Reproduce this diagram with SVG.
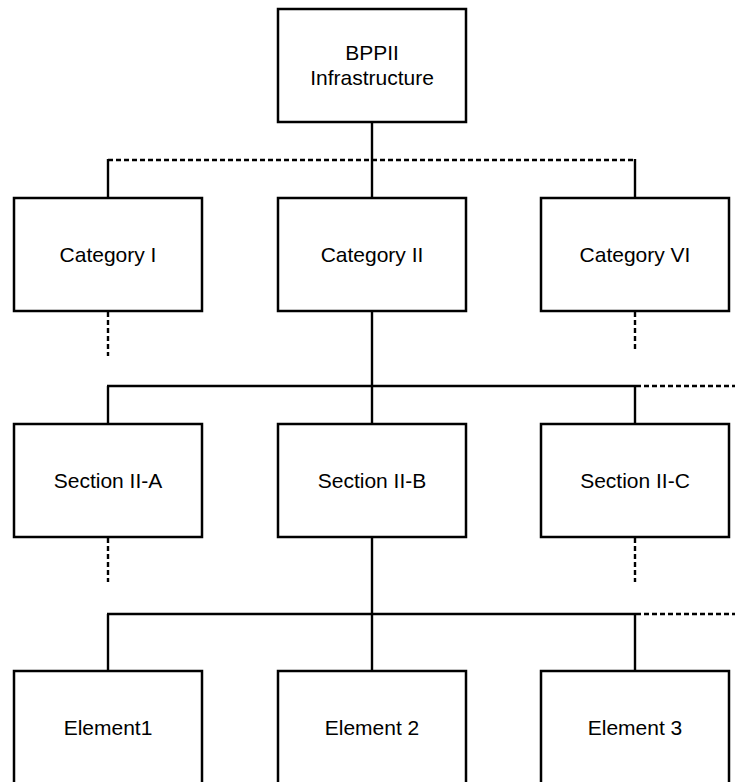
<svg xmlns="http://www.w3.org/2000/svg" width="735" height="782" viewBox="0 0 735 782">
  <style>
    .box { fill: #ffffff; stroke: #000000; stroke-width: 2.5; }
    .lbl { font-family: "Liberation Sans", Arial, sans-serif; font-size: 21px; fill: #000000; text-anchor: middle; }
    .solid { stroke: #000000; stroke-width: 2.4; fill: none; }
    .dash { stroke: #000000; stroke-width: 2.4; fill: none; stroke-dasharray: 5 3; }
  </style>
  <rect width="735" height="782" fill="#ffffff"/>

  <!-- connectors -->
  <g id="connectors">
    <!-- root to categories -->
    <line class="solid" x1="372" y1="122" x2="372" y2="198"/>
    <line class="dash" x1="108" y1="160" x2="635" y2="160"/>
    <line class="solid" x1="108" y1="159" x2="108" y2="198"/>
    <line class="solid" x1="635" y1="159" x2="635" y2="198"/>
    <line class="dash" x1="108" y1="312" x2="108" y2="356"/>
    <line class="dash" x1="635" y1="312" x2="635" y2="352"/>
    <!-- Category II to sections -->
    <line class="solid" x1="372" y1="311" x2="372" y2="424"/>
    <line class="solid" x1="107" y1="386" x2="636" y2="386"/>
    <line class="dash" x1="636" y1="386" x2="735" y2="386"/>
    <line class="solid" x1="108" y1="386" x2="108" y2="424"/>
    <line class="solid" x1="635" y1="386" x2="635" y2="424"/>
    <line class="dash" x1="108" y1="538" x2="108" y2="582"/>
    <line class="dash" x1="635" y1="538" x2="635" y2="582"/>
    <!-- Section II-B to elements -->
    <line class="solid" x1="372" y1="537" x2="372" y2="671"/>
    <line class="solid" x1="107" y1="614" x2="636" y2="614"/>
    <line class="dash" x1="636" y1="614" x2="735" y2="614"/>
    <line class="solid" x1="108" y1="614" x2="108" y2="671"/>
    <line class="solid" x1="635" y1="614" x2="635" y2="671"/>
  </g>

  <g id="root">
    <rect class="box" x="278" y="9" width="188" height="113"/>
    <text class="lbl" x="372" y="60">BPPII</text>
    <text class="lbl" x="372" y="85">Infrastructure</text>
  </g>

  <g id="category-1">
    <rect class="box" x="14" y="198" width="188" height="113"/>
    <text class="lbl" x="108" y="262">Category I</text>
  </g>
  <g id="category-2">
    <rect class="box" x="278" y="198" width="188" height="113"/>
    <text class="lbl" x="372" y="262">Category II</text>
  </g>
  <g id="category-6">
    <rect class="box" x="541" y="198" width="188" height="113"/>
    <text class="lbl" x="635" y="262">Category VI</text>
  </g>

  <g id="section-a">
    <rect class="box" x="14" y="424" width="188" height="113"/>
    <text class="lbl" x="108" y="488">Section II-A</text>
  </g>
  <g id="section-b">
    <rect class="box" x="278" y="424" width="188" height="113"/>
    <text class="lbl" x="372" y="488">Section II-B</text>
  </g>
  <g id="section-c">
    <rect class="box" x="541" y="424" width="188" height="113"/>
    <text class="lbl" x="635" y="488">Section II-C</text>
  </g>

  <g id="element-1">
    <rect class="box" x="14" y="671" width="188" height="113"/>
    <text class="lbl" x="108" y="735">Element1</text>
  </g>
  <g id="element-2">
    <rect class="box" x="278" y="671" width="188" height="113"/>
    <text class="lbl" x="372" y="735">Element 2</text>
  </g>
  <g id="element-3">
    <rect class="box" x="541" y="671" width="188" height="113"/>
    <text class="lbl" x="635" y="735">Element 3</text>
  </g>
</svg>
